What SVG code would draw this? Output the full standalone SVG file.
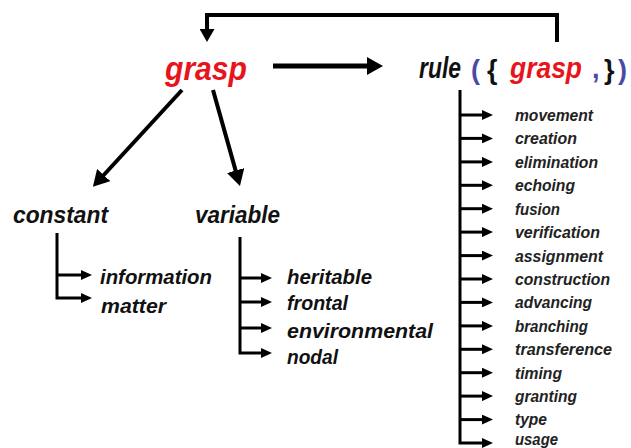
<svg xmlns="http://www.w3.org/2000/svg" width="631" height="448" viewBox="0 0 631 448">
<style>
.t{font-family:"Liberation Sans",Arial,sans-serif;font-weight:bold;font-style:italic;fill:#111}
.red{fill:#e8141c}
.blue{fill:#4a4aa6;font-style:normal}
.br{fill:#111;font-style:normal}
.ln{fill:none;stroke:#000;stroke-linejoin:miter}
.s{font-size:16.5px;fill:#222}
</style>
<defs>
<marker id="big" markerUnits="userSpaceOnUse" markerWidth="16" markerHeight="18" refX="4" refY="9" orient="auto"><path d="M0,0 L16,9 L0,18 z" fill="#000"/></marker>
<marker id="mid" markerUnits="userSpaceOnUse" markerWidth="13" markerHeight="15" refX="3" refY="7.5" orient="auto"><path d="M0,0 L13,7.5 L0,15 z" fill="#000"/></marker>
<marker id="sm" markerUnits="userSpaceOnUse" markerWidth="11" markerHeight="10" refX="3" refY="5" orient="auto"><path d="M0,0 L11,5 L0,10 z" fill="#000"/></marker>
</defs>
<rect width="631" height="448" fill="#fff"/>
<g id="connectors">
<path class="ln" d="M557,42 V15 H207 V32" stroke-width="4" marker-end="url(#mid)"/>
<path class="ln" d="M273,66 H371" stroke-width="5" marker-end="url(#big)"/>
<path class="ln" d="M182,90 L101,178" stroke-width="4" marker-end="url(#big)"/>
<path class="ln" d="M213,90 L236.7,174.4" stroke-width="4" marker-end="url(#big)"/>
<path class="ln" d="M57,233 V298 H84" stroke-width="3" marker-end="url(#sm)"/>
<path class="ln" d="M57,275 H84" stroke-width="3" marker-end="url(#sm)"/>
<path class="ln" d="M240,237 V353 H264" stroke-width="3" marker-end="url(#sm)"/>
<path class="ln" d="M240,278 H264" stroke-width="3" marker-end="url(#sm)"/>
<path class="ln" d="M240,302 H264" stroke-width="3" marker-end="url(#sm)"/>
<path class="ln" d="M240,328 H264" stroke-width="3" marker-end="url(#sm)"/>
<path class="ln" d="M460,90 V443 H485" stroke-width="3" marker-end="url(#sm)"/>
<path class="ln" d="M460,115 H485" stroke-width="3" marker-end="url(#sm)"/>
<path class="ln" d="M460,138.4 H485" stroke-width="3" marker-end="url(#sm)"/>
<path class="ln" d="M460,161.9 H485" stroke-width="3" marker-end="url(#sm)"/>
<path class="ln" d="M460,185.3 H485" stroke-width="3" marker-end="url(#sm)"/>
<path class="ln" d="M460,208.7 H485" stroke-width="3" marker-end="url(#sm)"/>
<path class="ln" d="M460,232.1 H485" stroke-width="3" marker-end="url(#sm)"/>
<path class="ln" d="M460,255.6 H485" stroke-width="3" marker-end="url(#sm)"/>
<path class="ln" d="M460,279 H485" stroke-width="3" marker-end="url(#sm)"/>
<path class="ln" d="M460,302.4 H485" stroke-width="3" marker-end="url(#sm)"/>
<path class="ln" d="M460,325.9 H485" stroke-width="3" marker-end="url(#sm)"/>
<path class="ln" d="M460,349.3 H485" stroke-width="3" marker-end="url(#sm)"/>
<path class="ln" d="M460,372.7 H485" stroke-width="3" marker-end="url(#sm)"/>
<path class="ln" d="M460,396.1 H485" stroke-width="3" marker-end="url(#sm)"/>
<path class="ln" d="M460,419.6 H485" stroke-width="3" marker-end="url(#sm)"/>
</g>
<g id="grasp"><text class="t red" x="165" y="80" font-size="34" textLength="82" lengthAdjust="spacingAndGlyphs">grasp</text></g>
<g id="rule">
<text class="t" y="78" font-size="30"><tspan x="419" textLength="42" lengthAdjust="spacingAndGlyphs">rule</tspan><tspan class="blue" x="471" y="79" font-size="27">(</tspan><tspan class="br" x="487" font-size="27">{</tspan><tspan class="red" x="510" y="78" textLength="72" lengthAdjust="spacingAndGlyphs">grasp</tspan><tspan class="blue" x="592" font-size="27">,</tspan><tspan class="br" x="604" y="79" font-size="27">}</tspan><tspan class="blue" x="618" font-size="27">)</tspan></text>
</g>
<g id="constant"><text class="t" x="13" y="223" font-size="23" textLength="95" lengthAdjust="spacingAndGlyphs">constant</text></g>
<g id="variable"><text class="t" x="195" y="223" font-size="23" textLength="85" lengthAdjust="spacingAndGlyphs">variable</text></g>
<g id="information"><text class="t" x="100" y="284" font-size="21" textLength="112" lengthAdjust="spacingAndGlyphs">information</text></g>
<g id="matter"><text class="t" x="101" y="313" font-size="21" textLength="65" lengthAdjust="spacingAndGlyphs">matter</text></g>
<g id="heritable"><text class="t" x="287" y="284" font-size="21" textLength="85" lengthAdjust="spacingAndGlyphs">heritable</text></g>
<g id="frontal"><text class="t" x="287" y="310" font-size="21" textLength="61" lengthAdjust="spacingAndGlyphs">frontal</text></g>
<g id="environmental"><text class="t" x="287" y="338" font-size="21" textLength="146" lengthAdjust="spacingAndGlyphs">environmental</text></g>
<g id="nodal"><text class="t" x="287" y="364" font-size="21" textLength="51" lengthAdjust="spacingAndGlyphs">nodal</text></g>
<g id="movement"><text class="t s" x="515" y="121" textLength="78" lengthAdjust="spacingAndGlyphs">movement</text></g>
<g id="creation"><text class="t s" x="515" y="144.4" textLength="62" lengthAdjust="spacingAndGlyphs">creation</text></g>
<g id="elimination"><text class="t s" x="515" y="167.9" textLength="83" lengthAdjust="spacingAndGlyphs">elimination</text></g>
<g id="echoing"><text class="t s" x="515" y="191.3" textLength="60" lengthAdjust="spacingAndGlyphs">echoing</text></g>
<g id="fusion"><text class="t s" x="515" y="214.7" textLength="45" lengthAdjust="spacingAndGlyphs">fusion</text></g>
<g id="verification"><text class="t s" x="515" y="238.1" textLength="85" lengthAdjust="spacingAndGlyphs">verification</text></g>
<g id="assignment"><text class="t s" x="515" y="261.6" textLength="88" lengthAdjust="spacingAndGlyphs">assignment</text></g>
<g id="construction"><text class="t s" x="515" y="285" textLength="95" lengthAdjust="spacingAndGlyphs">construction</text></g>
<g id="advancing"><text class="t s" x="515" y="308.4" textLength="77" lengthAdjust="spacingAndGlyphs">advancing</text></g>
<g id="branching"><text class="t s" x="515" y="331.9" textLength="73" lengthAdjust="spacingAndGlyphs">branching</text></g>
<g id="transference"><text class="t s" x="515" y="355.3" textLength="97" lengthAdjust="spacingAndGlyphs">transference</text></g>
<g id="timing"><text class="t s" x="515" y="378.7" textLength="47" lengthAdjust="spacingAndGlyphs">timing</text></g>
<g id="granting"><text class="t s" x="515" y="402.1" textLength="62" lengthAdjust="spacingAndGlyphs">granting</text></g>
<g id="type"><text class="t s" x="515" y="425" textLength="32" lengthAdjust="spacingAndGlyphs">type</text></g>
<g id="usage"><text class="t s" x="515" y="444.5" textLength="43" lengthAdjust="spacingAndGlyphs">usage</text></g>
</svg>
